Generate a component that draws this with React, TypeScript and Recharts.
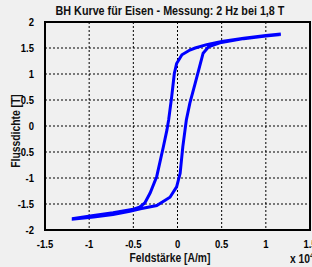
import React from "react";
import {
  LineChart,
  Line,
  XAxis,
  YAxis,
  CartesianGrid,
  ReferenceArea,
} from "recharts";

// Feldstärke in 10^4 A/m, Flussdichte in T
const hDown = [1.17, 1.0, 0.75, 0.5, 0.33, 0.2, 0.14, 0.05, -0.01, -0.036, -0.066, -0.1, -0.12, -0.16, -0.235, -0.31, -0.37, -0.43, -0.5, -0.73, -0.95, -1.18];
const bDown = [1.77, 1.74, 1.69, 1.625, 1.565, 1.5, 1.46, 1.37, 1.2, 1.01, 0.56, 0.12, -0.08, -0.4, -0.97, -1.29, -1.48, -1.56, -1.6, -1.67, -1.72, -1.78];
const hUp = [-1.18, -0.95, -0.73, -0.54, -0.42, -0.235, -0.085, -0.01, 0.03, 0.06, 0.085, 0.1, 0.14, 0.2, 0.25, 0.29, 0.35, 0.48, 0.75, 1.0, 1.17];
const bUp = [-1.79, -1.75, -1.7, -1.64, -1.59, -1.53, -1.37, -1.17, -0.91, -0.4, -0.08, 0.115, 0.44, 0.82, 1.14, 1.4, 1.52, 1.6, 1.68, 1.73, 1.76];

const xTicks = [-1.5, -1, -0.5, 0, 0.5, 1, 1.5];
const yTicks = [-2, -1.5, -1, -0.5, 0, 0.5, 1, 1.5, 2];

const data = [
  ...hDown.map((h, i) => ({ h, b: bDown[i] })),
  ...hUp.map((h, i) => ({ h, b: bUp[i] })),
];

const font = "'Liberation Sans', Arial, sans-serif";
const narrow = 0.86;

// eslint-disable-next-line @typescript-eslint/no-explicit-any
function NarrowTick({ x, y, payload, textAnchor, axis }: any) {
  const dy = axis === "x" ? 8 : 4;
  return (
    <text
      transform={`translate(${x},${y + dy}) scale(${narrow},1)`}
      textAnchor={textAnchor}
      fontSize={11}
      fontWeight={700}
      fontFamily={font}
      fill="#000"
    >
      {payload.value}
    </text>
  );
}

const textBase: React.CSSProperties = {
  position: "absolute",
  fontSize: 12,
  fontWeight: 700,
  whiteSpace: "nowrap",
  color: "#111",
};

export default function App() {
  return (
    <div
      style={{
        position: "fixed",
        left: 0,
        top: 0,
        width: 312,
        height: 267,
        overflow: "hidden",
        background: "#f0f0f0",
        fontFamily: font,
      }}
    >
      <div
        style={{
          ...textBase,
          left: 170,
          top: 4,
          fontSize: 12.5,
          transform: `translateX(-50%) scaleX(${narrow})`,
        }}
      >
        BH Kurve für Eisen - Messung: 2 Hz bei 1,8 T
      </div>
      <LineChart
        width={320}
        height={267}
        data={data}
        margin={{ top: 22, right: 10, left: 0, bottom: 0 }}
        style={{ position: "absolute", left: 0, top: 0 }}
      >
        <CartesianGrid stroke="#000" strokeDasharray="2 2" strokeWidth={1} />
        <XAxis
          dataKey="h"
          type="number"
          domain={[-1.5, 1.5]}
          ticks={xTicks}
          height={37}
          tick={<NarrowTick axis="x" />}
          tickLine={false}
          axisLine={false}
          tickMargin={4}
          interval={0}
        />
        <YAxis
          type="number"
          domain={[-2, 2]}
          ticks={yTicks}
          width={45}
          tick={<NarrowTick axis="y" />}
          tickLine={false}
          axisLine={false}
          tickMargin={5}
          interval={0}
        />
        <ReferenceArea
          x1={-1.5}
          x2={1.5}
          y1={-2}
          y2={2}
          fill="none"
          stroke="#000"
          strokeWidth={2}
          fillOpacity={0}
        />
        <Line
          dataKey="b"
          type="linear"
          stroke="#0000ff"
          strokeWidth={3}
          dot={false}
          isAnimationActive={false}
        />
      </LineChart>
      <div
        style={{
          ...textBase,
          left: 16,
          top: 131,
          transform: `translate(-50%, -50%) rotate(-90deg) scaleX(${narrow})`,
        }}
      >
        Flussdichte [T]
      </div>
      <div
        style={{
          ...textBase,
          left: 170,
          top: 251,
          transform: `translateX(-50%) scaleX(${narrow})`,
        }}
      >
        Feldstärke [A/m]
      </div>
      <div
        style={{
          ...textBase,
          left: 290,
          top: 251,
          transformOrigin: "left center",
          transform: `scaleX(${narrow})`,
        }}
      >
        x 10<sup style={{ fontSize: 8 }}>4</sup>
      </div>
    </div>
  );
}
